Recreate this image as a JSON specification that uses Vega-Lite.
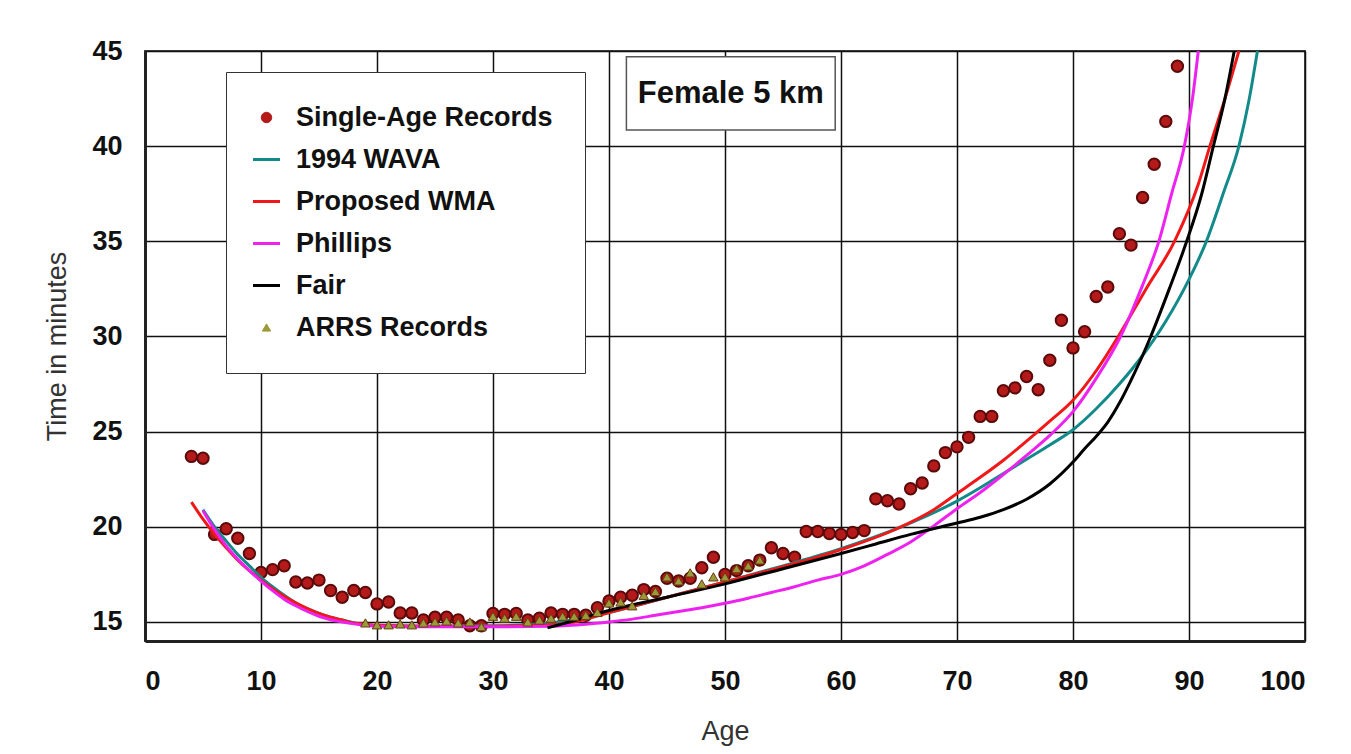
{
  "$schema": "https://vega.github.io/schema/vega-lite/v6.json",
  "width": 1160,
  "height": 590,
  "autosize": {"type": "none"},
  "padding": {"left": 145, "top": 51, "right": 46, "bottom": 113},
  "background": "white",
  "config": {
    "font": "Liberation Sans",
    "view": {"stroke": "#444", "strokeWidth": 2},
    "axis": {
      "grid": true, "gridColor": "#111", "gridWidth": 1.5, "gridOpacity": 1,
      "ticks": false, "domainColor": "#222", "domainWidth": 3,
      "labelFont": "Liberation Sans", "labelFontWeight": "bold", "labelFontSize": 27, "labelColor": "#111",
      "titleFont": "Liberation Sans", "titleFontWeight": "normal", "titleFontSize": 27, "titleColor": "#333"
    },
    "legend": {
      "orient": "none", "legendX": 81, "legendY": 21, "direction": "vertical",
      "padding": 32, "strokeColor": "#333", "fillColor": "white",
      "symbolOffset": -5, "labelOffset": 16, "rowPadding": 14,
      "labelFont": "Liberation Sans", "labelFontWeight": "bold", "labelFontSize": 27, "labelColor": "#111",
      "labelLimit": 400, "symbolOpacity": 1,
      "symbolSize": {"expr": "datum.value === 'Single-Age Records' ? 110 : datum.value === 'ARRS Records' ? 70 : 729"},
      "symbolStrokeWidth": {"expr": "(datum.value === 'Single-Age Records' || datum.value === 'ARRS Records') ? 1 : 3"}
    }
  },
  "datasets": {
    "records": [
      {"age": 4, "time": 23.7, "series": "Single-Age Records"},
      {"age": 5, "time": 23.6, "series": "Single-Age Records"},
      {"age": 6, "time": 19.6, "series": "Single-Age Records"},
      {"age": 7, "time": 19.9, "series": "Single-Age Records"},
      {"age": 8, "time": 19.4, "series": "Single-Age Records"},
      {"age": 9, "time": 18.6, "series": "Single-Age Records"},
      {"age": 10, "time": 17.6, "series": "Single-Age Records"},
      {"age": 11, "time": 17.75, "series": "Single-Age Records"},
      {"age": 12, "time": 17.95, "series": "Single-Age Records"},
      {"age": 13, "time": 17.1, "series": "Single-Age Records"},
      {"age": 14, "time": 17.05, "series": "Single-Age Records"},
      {"age": 15, "time": 17.2, "series": "Single-Age Records"},
      {"age": 16, "time": 16.65, "series": "Single-Age Records"},
      {"age": 17, "time": 16.3, "series": "Single-Age Records"},
      {"age": 18, "time": 16.65, "series": "Single-Age Records"},
      {"age": 19, "time": 16.55, "series": "Single-Age Records"},
      {"age": 20, "time": 15.95, "series": "Single-Age Records"},
      {"age": 21, "time": 16.05, "series": "Single-Age Records"},
      {"age": 22, "time": 15.47, "series": "Single-Age Records"},
      {"age": 23, "time": 15.47, "series": "Single-Age Records"},
      {"age": 24, "time": 15.1, "series": "Single-Age Records"},
      {"age": 25, "time": 15.25, "series": "Single-Age Records"},
      {"age": 26, "time": 15.25, "series": "Single-Age Records"},
      {"age": 27, "time": 15.1, "series": "Single-Age Records"},
      {"age": 28, "time": 14.8, "series": "Single-Age Records"},
      {"age": 29, "time": 14.8, "series": "Single-Age Records"},
      {"age": 30, "time": 15.45, "series": "Single-Age Records"},
      {"age": 31, "time": 15.4, "series": "Single-Age Records"},
      {"age": 32, "time": 15.45, "series": "Single-Age Records"},
      {"age": 33, "time": 15.1, "series": "Single-Age Records"},
      {"age": 34, "time": 15.2, "series": "Single-Age Records"},
      {"age": 35, "time": 15.47, "series": "Single-Age Records"},
      {"age": 36, "time": 15.4, "series": "Single-Age Records"},
      {"age": 37, "time": 15.4, "series": "Single-Age Records"},
      {"age": 38, "time": 15.35, "series": "Single-Age Records"},
      {"age": 39, "time": 15.75, "series": "Single-Age Records"},
      {"age": 40, "time": 16.1, "series": "Single-Age Records"},
      {"age": 41, "time": 16.3, "series": "Single-Age Records"},
      {"age": 42, "time": 16.4, "series": "Single-Age Records"},
      {"age": 43, "time": 16.7, "series": "Single-Age Records"},
      {"age": 44, "time": 16.6, "series": "Single-Age Records"},
      {"age": 45, "time": 17.3, "series": "Single-Age Records"},
      {"age": 46, "time": 17.15, "series": "Single-Age Records"},
      {"age": 47, "time": 17.3, "series": "Single-Age Records"},
      {"age": 48, "time": 17.85, "series": "Single-Age Records"},
      {"age": 49, "time": 18.4, "series": "Single-Age Records"},
      {"age": 50, "time": 17.5, "series": "Single-Age Records"},
      {"age": 51, "time": 17.7, "series": "Single-Age Records"},
      {"age": 52, "time": 17.95, "series": "Single-Age Records"},
      {"age": 53, "time": 18.25, "series": "Single-Age Records"},
      {"age": 54, "time": 18.9, "series": "Single-Age Records"},
      {"age": 55, "time": 18.6, "series": "Single-Age Records"},
      {"age": 56, "time": 18.4, "series": "Single-Age Records"},
      {"age": 57, "time": 19.75, "series": "Single-Age Records"},
      {"age": 58, "time": 19.75, "series": "Single-Age Records"},
      {"age": 59, "time": 19.65, "series": "Single-Age Records"},
      {"age": 60, "time": 19.6, "series": "Single-Age Records"},
      {"age": 61, "time": 19.7, "series": "Single-Age Records"},
      {"age": 62, "time": 19.8, "series": "Single-Age Records"},
      {"age": 63, "time": 21.47, "series": "Single-Age Records"},
      {"age": 64, "time": 21.37, "series": "Single-Age Records"},
      {"age": 65, "time": 21.2, "series": "Single-Age Records"},
      {"age": 66, "time": 22.0, "series": "Single-Age Records"},
      {"age": 67, "time": 22.3, "series": "Single-Age Records"},
      {"age": 68, "time": 23.2, "series": "Single-Age Records"},
      {"age": 69, "time": 23.9, "series": "Single-Age Records"},
      {"age": 70, "time": 24.2, "series": "Single-Age Records"},
      {"age": 71, "time": 24.7, "series": "Single-Age Records"},
      {"age": 72, "time": 25.8, "series": "Single-Age Records"},
      {"age": 73, "time": 25.8, "series": "Single-Age Records"},
      {"age": 74, "time": 27.15, "series": "Single-Age Records"},
      {"age": 75, "time": 27.3, "series": "Single-Age Records"},
      {"age": 76, "time": 27.9, "series": "Single-Age Records"},
      {"age": 77, "time": 27.2, "series": "Single-Age Records"},
      {"age": 78, "time": 28.75, "series": "Single-Age Records"},
      {"age": 79, "time": 30.85, "series": "Single-Age Records"},
      {"age": 80, "time": 29.4, "series": "Single-Age Records"},
      {"age": 81, "time": 30.25, "series": "Single-Age Records"},
      {"age": 82, "time": 32.1, "series": "Single-Age Records"},
      {"age": 83, "time": 32.6, "series": "Single-Age Records"},
      {"age": 84, "time": 35.4, "series": "Single-Age Records"},
      {"age": 85, "time": 34.8, "series": "Single-Age Records"},
      {"age": 86, "time": 37.3, "series": "Single-Age Records"},
      {"age": 87, "time": 39.05, "series": "Single-Age Records"},
      {"age": 88, "time": 41.3, "series": "Single-Age Records"},
      {"age": 89, "time": 44.2, "series": "Single-Age Records"},
      {"age": 19, "time": 14.95, "series": "ARRS Records"},
      {"age": 20, "time": 14.85, "series": "ARRS Records"},
      {"age": 21, "time": 14.85, "series": "ARRS Records"},
      {"age": 22, "time": 14.9, "series": "ARRS Records"},
      {"age": 23, "time": 14.85, "series": "ARRS Records"},
      {"age": 24, "time": 14.95, "series": "ARRS Records"},
      {"age": 25, "time": 15.0, "series": "ARRS Records"},
      {"age": 26, "time": 15.05, "series": "ARRS Records"},
      {"age": 27, "time": 14.95, "series": "ARRS Records"},
      {"age": 28, "time": 15.0, "series": "ARRS Records"},
      {"age": 29, "time": 14.75, "series": "ARRS Records"},
      {"age": 30, "time": 15.3, "series": "ARRS Records"},
      {"age": 31, "time": 15.2, "series": "ARRS Records"},
      {"age": 32, "time": 15.3, "series": "ARRS Records"},
      {"age": 33, "time": 15.0, "series": "ARRS Records"},
      {"age": 34, "time": 15.1, "series": "ARRS Records"},
      {"age": 35, "time": 15.2, "series": "ARRS Records"},
      {"age": 36, "time": 15.3, "series": "ARRS Records"},
      {"age": 37, "time": 15.3, "series": "ARRS Records"},
      {"age": 38, "time": 15.35, "series": "ARRS Records"},
      {"age": 39, "time": 15.5, "series": "ARRS Records"},
      {"age": 40, "time": 16.0, "series": "ARRS Records"},
      {"age": 41, "time": 16.05, "series": "ARRS Records"},
      {"age": 42, "time": 15.85, "series": "ARRS Records"},
      {"age": 43, "time": 16.4, "series": "ARRS Records"},
      {"age": 44, "time": 16.6, "series": "ARRS Records"},
      {"age": 45, "time": 17.37, "series": "ARRS Records"},
      {"age": 46, "time": 17.16, "series": "ARRS Records"},
      {"age": 47, "time": 17.58, "series": "ARRS Records"},
      {"age": 48, "time": 17.0, "series": "ARRS Records"},
      {"age": 49, "time": 17.37, "series": "ARRS Records"},
      {"age": 50, "time": 17.37, "series": "ARRS Records"},
      {"age": 51, "time": 17.8, "series": "ARRS Records"},
      {"age": 52, "time": 17.95, "series": "ARRS Records"},
      {"age": 53, "time": 18.26, "series": "ARRS Records"}
    ],
    "curves": [
      {"age": 5, "time": 20.9, "series": "1994 WAVA"},
      {"age": 6, "time": 20.0, "series": "1994 WAVA"},
      {"age": 7, "time": 19.25, "series": "1994 WAVA"},
      {"age": 8, "time": 18.55, "series": "1994 WAVA"},
      {"age": 9, "time": 17.95, "series": "1994 WAVA"},
      {"age": 10, "time": 17.35, "series": "1994 WAVA"},
      {"age": 11, "time": 16.85, "series": "1994 WAVA"},
      {"age": 12, "time": 16.4, "series": "1994 WAVA"},
      {"age": 13, "time": 16.0, "series": "1994 WAVA"},
      {"age": 14, "time": 15.7, "series": "1994 WAVA"},
      {"age": 15, "time": 15.45, "series": "1994 WAVA"},
      {"age": 16, "time": 15.25, "series": "1994 WAVA"},
      {"age": 17, "time": 15.1, "series": "1994 WAVA"},
      {"age": 18, "time": 14.95, "series": "1994 WAVA"},
      {"age": 19, "time": 14.85, "series": "1994 WAVA"},
      {"age": 20, "time": 14.8, "series": "1994 WAVA"},
      {"age": 25, "time": 14.78, "series": "1994 WAVA"},
      {"age": 30, "time": 14.8, "series": "1994 WAVA"},
      {"age": 35, "time": 14.95, "series": "1994 WAVA"},
      {"age": 40, "time": 15.5, "series": "1994 WAVA"},
      {"age": 45, "time": 16.3, "series": "1994 WAVA"},
      {"age": 50, "time": 17.1, "series": "1994 WAVA"},
      {"age": 55, "time": 17.95, "series": "1994 WAVA"},
      {"age": 60, "time": 18.85, "series": "1994 WAVA"},
      {"age": 65, "time": 19.95, "series": "1994 WAVA"},
      {"age": 70, "time": 21.35, "series": "1994 WAVA"},
      {"age": 72, "time": 22.05, "series": "1994 WAVA"},
      {"age": 74, "time": 22.8, "series": "1994 WAVA"},
      {"age": 76, "time": 23.55, "series": "1994 WAVA"},
      {"age": 78, "time": 24.3, "series": "1994 WAVA"},
      {"age": 80, "time": 25.1, "series": "1994 WAVA"},
      {"age": 82, "time": 26.2, "series": "1994 WAVA"},
      {"age": 84, "time": 27.5, "series": "1994 WAVA"},
      {"age": 86, "time": 29.0, "series": "1994 WAVA"},
      {"age": 88, "time": 30.8, "series": "1994 WAVA"},
      {"age": 90, "time": 33.0, "series": "1994 WAVA"},
      {"age": 91.5, "time": 35, "series": "1994 WAVA"},
      {"age": 93, "time": 37.6, "series": "1994 WAVA"},
      {"age": 94.3, "time": 40, "series": "1994 WAVA"},
      {"age": 95.2, "time": 42.5, "series": "1994 WAVA"},
      {"age": 95.9, "time": 45, "series": "1994 WAVA"},
      {"age": 4, "time": 21.3, "series": "Proposed WMA"},
      {"age": 5, "time": 20.4, "series": "Proposed WMA"},
      {"age": 6, "time": 19.6, "series": "Proposed WMA"},
      {"age": 7, "time": 18.9, "series": "Proposed WMA"},
      {"age": 8, "time": 18.25, "series": "Proposed WMA"},
      {"age": 9, "time": 17.7, "series": "Proposed WMA"},
      {"age": 10, "time": 17.2, "series": "Proposed WMA"},
      {"age": 11, "time": 16.75, "series": "Proposed WMA"},
      {"age": 12, "time": 16.35, "series": "Proposed WMA"},
      {"age": 13, "time": 16.0, "series": "Proposed WMA"},
      {"age": 14, "time": 15.7, "series": "Proposed WMA"},
      {"age": 15, "time": 15.45, "series": "Proposed WMA"},
      {"age": 16, "time": 15.25, "series": "Proposed WMA"},
      {"age": 17, "time": 15.1, "series": "Proposed WMA"},
      {"age": 18, "time": 14.95, "series": "Proposed WMA"},
      {"age": 19, "time": 14.88, "series": "Proposed WMA"},
      {"age": 20, "time": 14.83, "series": "Proposed WMA"},
      {"age": 25, "time": 14.78, "series": "Proposed WMA"},
      {"age": 30, "time": 14.78, "series": "Proposed WMA"},
      {"age": 35, "time": 14.85, "series": "Proposed WMA"},
      {"age": 37, "time": 15.0, "series": "Proposed WMA"},
      {"age": 40, "time": 15.5, "series": "Proposed WMA"},
      {"age": 45, "time": 16.3, "series": "Proposed WMA"},
      {"age": 50, "time": 17.1, "series": "Proposed WMA"},
      {"age": 55, "time": 17.9, "series": "Proposed WMA"},
      {"age": 60, "time": 18.8, "series": "Proposed WMA"},
      {"age": 65, "time": 19.95, "series": "Proposed WMA"},
      {"age": 68, "time": 20.9, "series": "Proposed WMA"},
      {"age": 70, "time": 21.75, "series": "Proposed WMA"},
      {"age": 72, "time": 22.6, "series": "Proposed WMA"},
      {"age": 74, "time": 23.5, "series": "Proposed WMA"},
      {"age": 76, "time": 24.5, "series": "Proposed WMA"},
      {"age": 78, "time": 25.55, "series": "Proposed WMA"},
      {"age": 80, "time": 26.65, "series": "Proposed WMA"},
      {"age": 82, "time": 28.2, "series": "Proposed WMA"},
      {"age": 83.9, "time": 30, "series": "Proposed WMA"},
      {"age": 86.3, "time": 32.5, "series": "Proposed WMA"},
      {"age": 88.75, "time": 35, "series": "Proposed WMA"},
      {"age": 90.8, "time": 38, "series": "Proposed WMA"},
      {"age": 91.8, "time": 40, "series": "Proposed WMA"},
      {"age": 93.1, "time": 42.5, "series": "Proposed WMA"},
      {"age": 94.3, "time": 45, "series": "Proposed WMA"},
      {"age": 5, "time": 20.85, "series": "Phillips"},
      {"age": 6, "time": 19.85, "series": "Phillips"},
      {"age": 7, "time": 19.0, "series": "Phillips"},
      {"age": 8, "time": 18.3, "series": "Phillips"},
      {"age": 9, "time": 17.7, "series": "Phillips"},
      {"age": 10, "time": 17.15, "series": "Phillips"},
      {"age": 11, "time": 16.65, "series": "Phillips"},
      {"age": 12, "time": 16.2, "series": "Phillips"},
      {"age": 13, "time": 15.85, "series": "Phillips"},
      {"age": 14, "time": 15.55, "series": "Phillips"},
      {"age": 15, "time": 15.3, "series": "Phillips"},
      {"age": 16, "time": 15.12, "series": "Phillips"},
      {"age": 17, "time": 15.0, "series": "Phillips"},
      {"age": 18, "time": 14.9, "series": "Phillips"},
      {"age": 19, "time": 14.83, "series": "Phillips"},
      {"age": 20, "time": 14.78, "series": "Phillips"},
      {"age": 25, "time": 14.75, "series": "Phillips"},
      {"age": 30, "time": 14.75, "series": "Phillips"},
      {"age": 35, "time": 14.78, "series": "Phillips"},
      {"age": 38, "time": 14.88, "series": "Phillips"},
      {"age": 40, "time": 15.0, "series": "Phillips"},
      {"age": 42, "time": 15.15, "series": "Phillips"},
      {"age": 44, "time": 15.35, "series": "Phillips"},
      {"age": 46, "time": 15.55, "series": "Phillips"},
      {"age": 48, "time": 15.75, "series": "Phillips"},
      {"age": 50, "time": 15.98, "series": "Phillips"},
      {"age": 52, "time": 16.25, "series": "Phillips"},
      {"age": 54, "time": 16.55, "series": "Phillips"},
      {"age": 56, "time": 16.85, "series": "Phillips"},
      {"age": 58, "time": 17.2, "series": "Phillips"},
      {"age": 60, "time": 17.5, "series": "Phillips"},
      {"age": 62, "time": 17.95, "series": "Phillips"},
      {"age": 64, "time": 18.55, "series": "Phillips"},
      {"age": 66, "time": 19.2, "series": "Phillips"},
      {"age": 68, "time": 20.05, "series": "Phillips"},
      {"age": 70, "time": 20.95, "series": "Phillips"},
      {"age": 72, "time": 21.8, "series": "Phillips"},
      {"age": 74, "time": 22.75, "series": "Phillips"},
      {"age": 76, "time": 23.75, "series": "Phillips"},
      {"age": 78, "time": 24.8, "series": "Phillips"},
      {"age": 80, "time": 26.05, "series": "Phillips"},
      {"age": 82, "time": 27.8, "series": "Phillips"},
      {"age": 84.1, "time": 30, "series": "Phillips"},
      {"age": 86, "time": 32.7, "series": "Phillips"},
      {"age": 87.4, "time": 35, "series": "Phillips"},
      {"age": 88.5, "time": 37.5, "series": "Phillips"},
      {"age": 89.6, "time": 40, "series": "Phillips"},
      {"age": 90.3, "time": 42.5, "series": "Phillips"},
      {"age": 90.8, "time": 45, "series": "Phillips"},
      {"age": 34.7, "time": 14.7, "series": "Fair"},
      {"age": 36, "time": 14.9, "series": "Fair"},
      {"age": 38, "time": 15.25, "series": "Fair"},
      {"age": 40, "time": 15.6, "series": "Fair"},
      {"age": 45, "time": 16.3, "series": "Fair"},
      {"age": 50, "time": 17.0, "series": "Fair"},
      {"age": 55, "time": 17.8, "series": "Fair"},
      {"age": 60, "time": 18.6, "series": "Fair"},
      {"age": 63, "time": 19.1, "series": "Fair"},
      {"age": 66, "time": 19.6, "series": "Fair"},
      {"age": 70, "time": 20.2, "series": "Fair"},
      {"age": 72, "time": 20.5, "series": "Fair"},
      {"age": 74, "time": 20.9, "series": "Fair"},
      {"age": 76, "time": 21.45, "series": "Fair"},
      {"age": 78, "time": 22.25, "series": "Fair"},
      {"age": 80, "time": 23.4, "series": "Fair"},
      {"age": 81, "time": 24.1, "series": "Fair"},
      {"age": 82, "time": 24.75, "series": "Fair"},
      {"age": 83, "time": 25.5, "series": "Fair"},
      {"age": 84, "time": 26.5, "series": "Fair"},
      {"age": 85, "time": 27.7, "series": "Fair"},
      {"age": 86, "time": 29.0, "series": "Fair"},
      {"age": 86.7, "time": 30, "series": "Fair"},
      {"age": 88.3, "time": 32.5, "series": "Fair"},
      {"age": 89.8, "time": 35, "series": "Fair"},
      {"age": 91.1, "time": 37.5, "series": "Fair"},
      {"age": 92.1, "time": 40, "series": "Fair"},
      {"age": 93.1, "time": 42.5, "series": "Fair"},
      {"age": 93.9, "time": 45, "series": "Fair"}
    ]
  },
  "encoding": {
    "x": {"field": "age", "type": "quantitative", "title": "Age",
      "scale": {"domain": [0, 100], "nice": false, "zero": false},
      "axis": {"values": [0, 10, 20, 30, 40, 50, 60, 70, 80, 90, 100], "labelPadding": 27, "titlePadding": 24}},
    "y": {"field": "time", "type": "quantitative", "title": "Time in minutes",
      "scale": {"domain": [14, 45], "nice": false, "zero": false},
      "axis": {"values": [15, 20, 25, 30, 35, 40, 45], "labelPadding": 23, "titlePadding": 20}}
  },
  "layer": [
    {
      "data": {"name": "records"},
      "transform": [{"filter": "datum.series === 'Single-Age Records'"}],
      "mark": {"type": "point", "filled": true, "opacity": 1, "size": 130, "clip": true},
      "encoding": {
        "color": {"field": "series", "type": "nominal", "legend": {"title": null},
          "scale": {"domain": ["Single-Age Records", "1994 WAVA", "Proposed WMA", "Phillips", "Fair", "ARRS Records"],
                    "range": ["#b51a1a", "#138a8a", "#f01818", "#ee22ee", "#000000", "#9a9a3a"]}},
        "stroke": {"field": "series", "type": "nominal", "legend": {"title": null},
          "scale": {"domain": ["Single-Age Records", "1994 WAVA", "Proposed WMA", "Phillips", "Fair", "ARRS Records"],
                    "range": ["#5a0a0a", "#138a8a", "#f01818", "#ee22ee", "#000000", "#6b3a10"]}},
        "shape": {"field": "series", "type": "nominal", "legend": {"title": null},
          "scale": {"domain": ["Single-Age Records", "1994 WAVA", "Proposed WMA", "Phillips", "Fair", "ARRS Records"],
                    "range": ["circle", "stroke", "stroke", "stroke", "stroke", "triangle-up"]}}
      }
    },
    {
      "data": {"name": "curves"},
      "mark": {"type": "line", "strokeWidth": 3, "interpolate": "monotone", "clip": true},
      "encoding": {
        "color": {"field": "series", "type": "nominal", "legend": null,
          "scale": {"domain": ["Single-Age Records", "1994 WAVA", "Proposed WMA", "Phillips", "Fair", "ARRS Records"],
                    "range": ["#b51a1a", "#138a8a", "#f01818", "#ee22ee", "#000000", "#9a9a3a"]}}
      }
    },
    {
      "data": {"name": "records"},
      "transform": [{"filter": "datum.series === 'ARRS Records'"}],
      "mark": {"type": "point", "shape": "triangle-up", "filled": true, "size": 90, "fill": "#9a9a3a", "stroke": "#6b3a10", "strokeWidth": 1, "opacity": 1, "clip": true},
      "encoding": {}
    },
    {
      "data": {"values": [{"age": 41.5, "age2": 59.5, "time": 44.7, "time2": 40.85}]},
      "mark": {"type": "rect", "fill": "white", "stroke": "#555", "strokeWidth": 1.5},
      "encoding": {
        "x2": {"field": "age2"},
        "y2": {"field": "time2"}
      }
    },
    {
      "data": {"values": [{"age": 50.5, "time": 42.75, "label": "Female 5 km"}]},
      "mark": {"type": "text", "font": "Liberation Sans", "fontWeight": "bold", "fontSize": 31, "fill": "#111", "align": "center", "baseline": "middle"},
      "encoding": {
        "text": {"field": "label", "type": "nominal"}
      }
    }
  ]
}
